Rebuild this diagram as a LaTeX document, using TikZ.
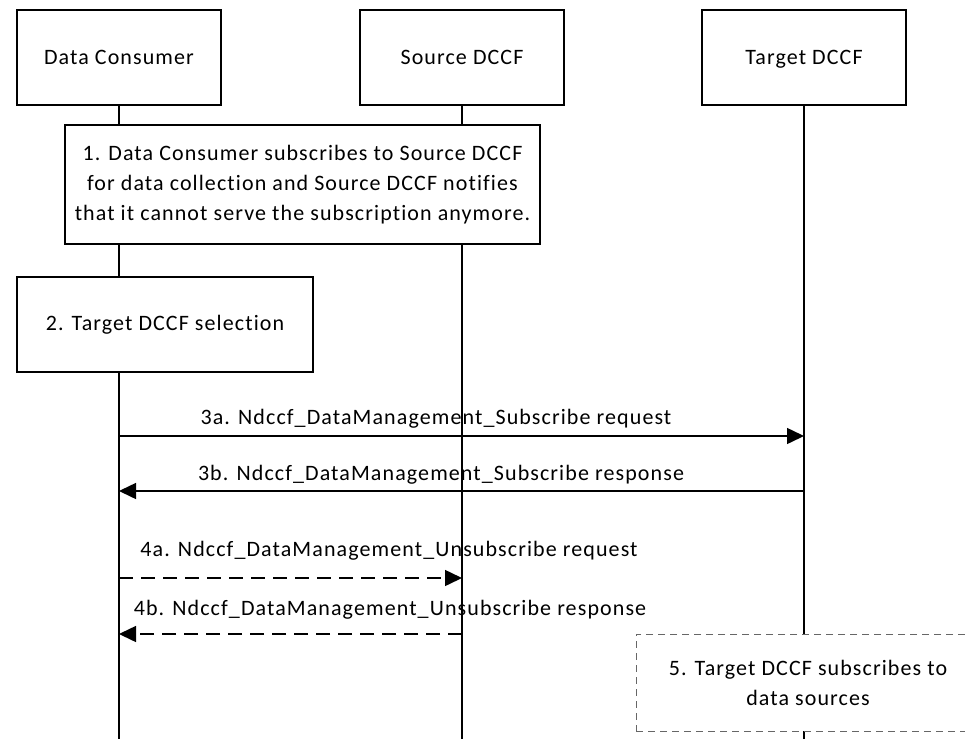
\documentclass[tikz,border=0pt]{standalone}
\usepackage{fontspec}
\setmainfont{Carlito}[LetterSpace=5,Ligatures=NoCommon]
\usetikzlibrary{arrows.meta}
\begin{document}
\begin{tikzpicture}[x=1pt,y=-1pt,
  txt/.style={font=\fontsize{22}{30}\selectfont},
  entity/.style={draw,line width=1.1pt,fill=white,minimum width=204pt,minimum height=95pt,inner sep=0pt,text height=14pt,text depth=0pt,txt},
  stepbox/.style={draw,line width=1.1pt,fill=white,inner sep=0pt,align=center,txt},
  life/.style={line width=1.8pt},
  msg/.style={line width=1.5pt,-{Triangle[length=17pt,width=16pt]}},
  dmsg/.style={msg,dash pattern=on 14pt off 8pt},
  lbl/.style={txt,inner sep=0pt}]
\useasboundingbox (0,0) rectangle (965,738);
\clip (0,0) rectangle (965,738);
% entities
\node[entity] (dc) at (119,57.5) {Data Consumer};
\node[entity] (sd) at (462,57.5) {Source DCCF};
\node[entity] (td) at (804,57.5) {Target DCCF};
% lifeline ends
\coordinate (dcend) at (119,740);
\coordinate (sdend) at (462,740);
\coordinate (tdend) at (804,740);
\draw[life] (dc.south) -- (dcend);
\draw[life] (sd.south) -- (sdend);
\draw[life] (td.south) -- (tdend);
% step 1
\node[stepbox,minimum width=475pt,minimum height=119pt] (s1) at (302.5,184.5)
  {1. Data Consumer subscribes to Source DCCF\\for data collection and Source DCCF notifies\\that it cannot serve the subscription anymore.};
% step 2
\node[stepbox,minimum width=296pt,minimum height=95pt] (s2) at (165,324.5) {2. Target DCCF selection};
% messages
\coordinate (y3a) at (0,436);
\coordinate (y3b) at (0,491);
\coordinate (y4a) at (0,578);
\coordinate (y4b) at (0,634);
\draw[msg] (dc.south |- y3a) -- (td.south |- y3a);
\node[lbl] (l3a) at (436,419) {3a. Ndccf\_DataManagement\_Subscribe request};
\draw[msg] (td.south |- y3b) -- (dc.south |- y3b);
\node[lbl] (l3b) at (441,475) {3b. Ndccf\_DataManagement\_Subscribe response};
\draw[dmsg] (dc.south |- y4a) -- (sd.south |- y4a);
\node[lbl] (l4a) at (389,551) {4a. Ndccf\_DataManagement\_Unsubscribe request};
\draw[dmsg] (sd.south |- y4b) -- (dc.south |- y4b);
\node[lbl] (l4b) at (390,610) {4b. Ndccf\_DataManagement\_Unsubscribe response};
% step 5
\node[stepbox,draw=black!60,line width=1pt,dash pattern=on 7pt off 5pt,minimum width=344pt,minimum height=97pt] (s5) at (808,682.5)
  {5. Target DCCF subscribes to\\data sources};
\end{tikzpicture}
\end{document}
